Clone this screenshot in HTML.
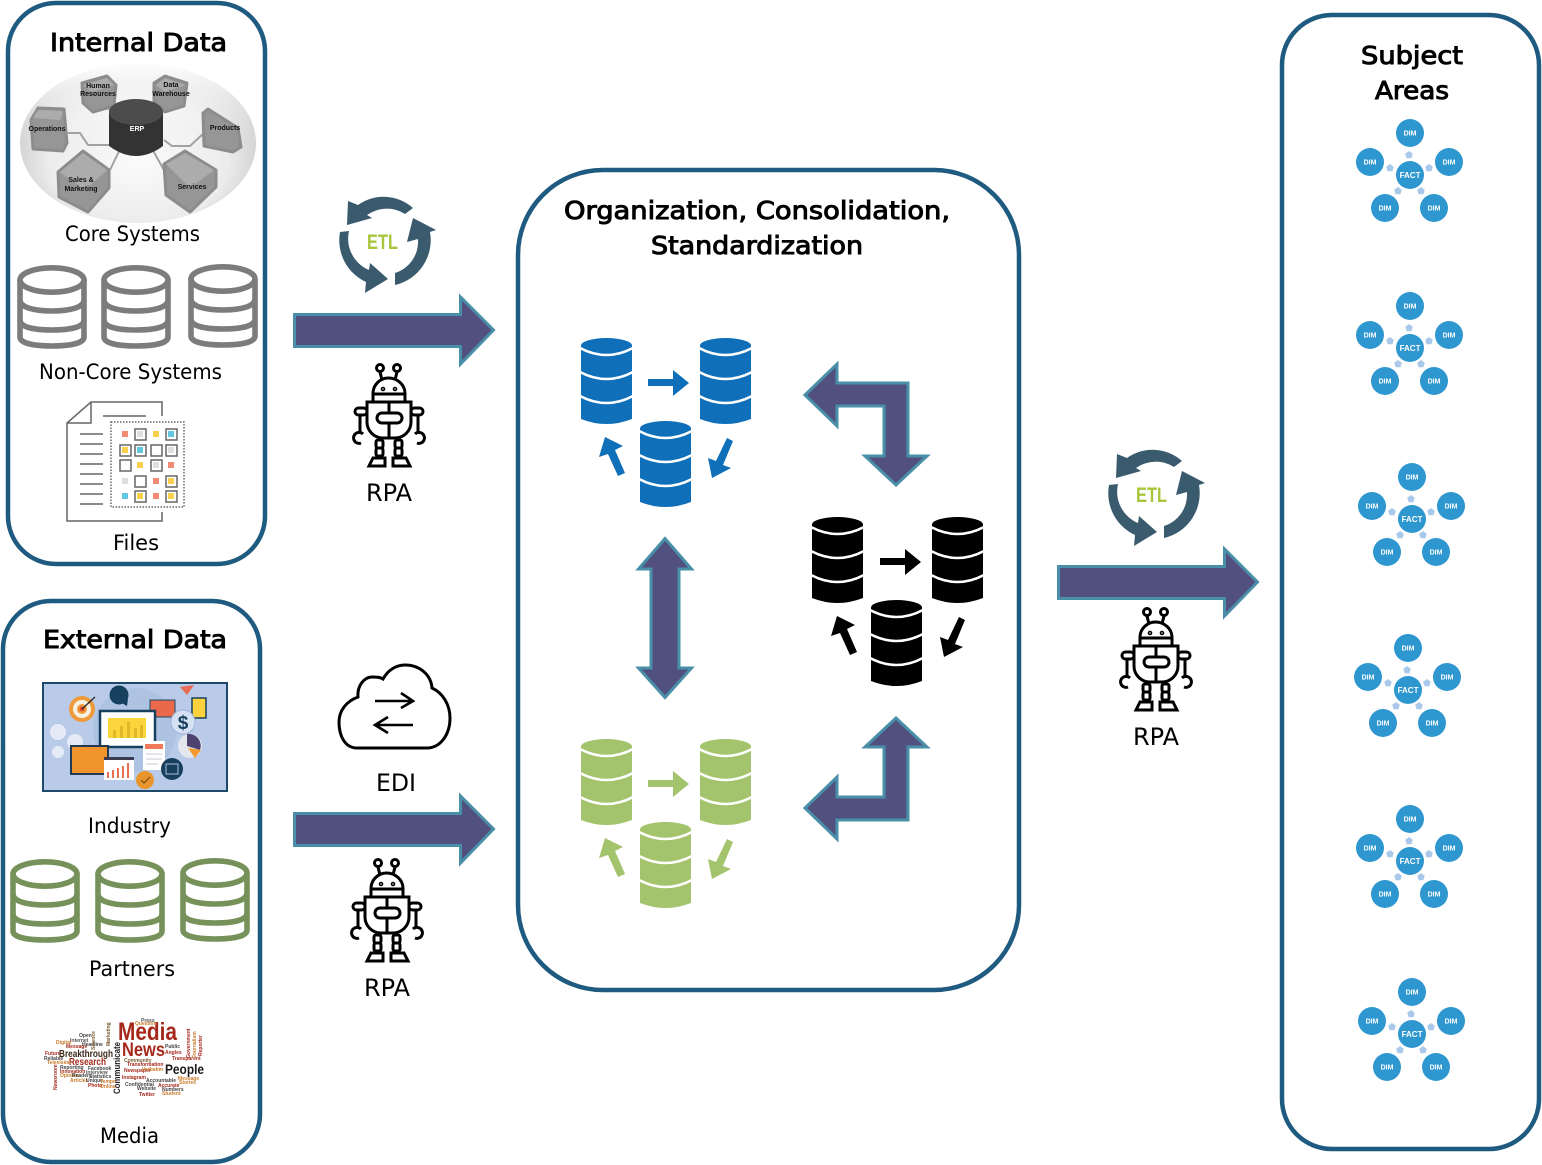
<!DOCTYPE html>
<html><head><meta charset="utf-8"><title>Data architecture</title>
<style>
html,body{margin:0;padding:0;background:#fff}
svg{display:block}
text{font-family:"Liberation Sans",sans-serif}
.h{font-family:"DejaVu Sans",sans-serif;font-size:25px;fill:#000;stroke:#000;stroke-width:1px}
.l{font-family:"DejaVu Sans",sans-serif;font-size:21px;fill:#000}
.r{font-family:"DejaVu Sans",sans-serif;font-size:24px;fill:#000}
.d{font-size:7px;font-weight:bold;fill:#fff;text-anchor:middle}
.f{font-size:8px;font-weight:bold;fill:#fff;text-anchor:middle}
.c{font-size:7px;font-weight:bold;fill:#111;text-anchor:middle}
.w{font-size:5px;font-weight:bold}
</style></head><body>
<svg xmlns="http://www.w3.org/2000/svg" width="1542" height="1165" viewBox="0 0 1542 1165">
<defs>
<radialGradient id="g" cx="50%" cy="62%" r="58%"><stop offset="0" stop-color="#fbfbfb"/><stop offset=".65" stop-color="#ececec"/><stop offset="1" stop-color="#c6c6c6"/></radialGradient>
<linearGradient id="topfade" x1="0" y1="0" x2="0" y2="1"><stop offset="0" stop-color="#fff"/><stop offset=".4" stop-color="#fff" stop-opacity=".2"/><stop offset=".55" stop-color="#fff" stop-opacity="0"/></linearGradient>
<symbol id="db" viewBox="0 0 51 86" overflow="visible">
<path d="M0 8V81Q25.500 91 51 81V8Z" fill="currentColor"/>
<ellipse cx="25.500" cy="7.500" rx="25.500" ry="7.500" fill="currentColor"/>
<g fill="none" stroke="#fff" stroke-width="2.600"><path d="M-1 10Q25.500 24 52 10"/><path d="M-1 34Q25.500 48 52 34"/><path d="M-1 58Q25.500 72 52 58"/></g>
</symbol>
<symbol id="odb" viewBox="0 0 70 84" overflow="visible">
<g fill="none" stroke="currentColor" stroke-width="5.600"><ellipse cx="35" cy="15" rx="32" ry="12.200"/><path d="M3 15V72C3 78 16 81 35 81C54 81 67 78 67 72V15"/><path d="M3 35C3 42 16 46 35 46C54 46 67 42 67 35"/><path d="M3 55C3 62 16 65 35 65C54 65 67 62 67 55"/></g>
</symbol>
<g id="tri">
<polygon points="648,379 673,379 673,370 689,383 673,396 673,386 648,386"/>
<polygon points="605,437 623,446 615,450 625,473 618,476 608,454 599,457"/>
<polygon points="712,478 708,458 716,461 727,438 733,441 723,465 731,468"/>
</g>
<g id="etl" fill="#3a5a6e">
<path d="M413 208A44 44 0 0 0 358 205L348 201L347 225L372 218L367 215A34 34 0 0 1 405 214Z"/>
<path d="M340 232A46 46 0 0 0 366 282L365 293L388 279L370 263L369 270A34 34 0 0 1 349 231Z"/>
<path d="M430 232A46 46 0 0 1 395 285L395 273A33 33 0 0 0 418 239L407 242L413 218L436 230Z"/>
</g>
<g id="robot" fill="none" stroke="#000" stroke-width="3">
<circle cx="380" cy="368" r="3.500"/><circle cx="397" cy="368" r="3.500"/><path d="M380 372L382 380M397 372L395 380"/>
<path d="M373 402V393A15.500 15.500 0 0 1 388.500 378A16.500 15.500 0 0 1 405 393V402"/><path d="M373 394H405"/>
<path d="M367 402H411V422A16 16 0 0 1 395 438H383A16 16 0 0 1 367 422Z"/>
<rect x="377" y="413" width="25" height="10" rx="5"/><path d="M389 402V413M389 423V438"/>
<rect x="355" y="408" width="12" height="7" rx="3.500"/><rect x="411" y="408" width="12" height="7" rx="3.500"/>
<path d="M360 415V433M418 415V433"/>
<path d="M363 434A5.500 5.500 0 1 0 361 443M415 434A5.500 5.500 0 1 1 417 443"/>
<rect x="376" y="440" width="7" height="8" rx="2"/><rect x="376" y="448" width="7" height="8" rx="2"/><rect x="395" y="440" width="7" height="8" rx="2"/><rect x="395" y="448" width="7" height="8" rx="2"/>
<path d="M369 466L373 458H385V466ZM410 466L406 458H393V466Z"/>
<circle cx="383" cy="389" r=".8"/><circle cx="395" cy="389" r=".8"/>
</g>
<polygon id="p" points="0,-4 3.800,-1.200 2.400,3.200 -2.400,3.200 -3.800,-1.200" fill="#a9c8ea"/>
<g id="star">
<g fill="#2f97cf"><circle cx="0" cy="0" r="14"/><circle cx="0" cy="-42" r="14"/><circle cx="-40" cy="-13" r="14"/><circle cx="39" cy="-13" r="14"/><circle cx="-25" cy="33" r="14"/><circle cx="24" cy="33" r="14"/></g>
<use href="#p" x="-1" y="-20"/><use href="#p" x="-20" y="-7"/><use href="#p" x="19" y="-7"/><use href="#p" x="-12" y="16"/><use href="#p" x="11" y="16"/>
</g>
<polygon id="ba" points="294.500,314.500 460.500,314.500 460.500,297 493.500,330 460.500,364 460.500,346.500 294.500,346.500"/>
</defs>

<!-- containers -->
<g fill="#fff" stroke="#1f5a80" stroke-width="4.500">
<rect x="8" y="3" width="257" height="561" rx="48"/>
<rect x="3" y="601" width="257" height="561" rx="48"/>
<rect x="518" y="170" width="501" height="820" rx="85"/>
<rect x="1282" y="15" width="257" height="1134" rx="50"/>
</g>

<!-- titles -->
<text class="h" x="50" y="51" textLength="177" lengthAdjust="spacingAndGlyphs">Internal Data</text>
<text class="h" x="43" y="648" textLength="184" lengthAdjust="spacingAndGlyphs">External Data</text>
<text class="h" x="564" y="219" textLength="386" lengthAdjust="spacingAndGlyphs">Organization, Consolidation,</text>
<text class="h" x="651" y="254" textLength="212" lengthAdjust="spacingAndGlyphs">Standardization</text>
<text class="h" x="1361" y="64" textLength="102" lengthAdjust="spacingAndGlyphs">Subject</text>
<text class="h" x="1375" y="99" textLength="74" lengthAdjust="spacingAndGlyphs">Areas</text>

<!-- labels -->
<text class="l" x="65" y="241" textLength="135" lengthAdjust="spacingAndGlyphs">Core Systems</text>
<text class="l" x="39" y="379" textLength="183" lengthAdjust="spacingAndGlyphs">Non-Core Systems</text>
<text class="l" x="113" y="550" textLength="46" lengthAdjust="spacingAndGlyphs">Files</text>
<text class="l" x="88" y="833" textLength="83" lengthAdjust="spacingAndGlyphs">Industry</text>
<text class="l" x="89" y="976" textLength="86" lengthAdjust="spacingAndGlyphs">Partners</text>
<text class="l" x="100" y="1143" textLength="59" lengthAdjust="spacingAndGlyphs">Media</text>
<text class="r" x="366" y="501" textLength="46" lengthAdjust="spacingAndGlyphs">RPA</text>
<text class="r" x="364" y="996" textLength="46" lengthAdjust="spacingAndGlyphs">RPA</text>
<text class="r" x="1133" y="745" textLength="46" lengthAdjust="spacingAndGlyphs">RPA</text>
<text class="r" x="376" y="791" textLength="40" lengthAdjust="spacingAndGlyphs">EDI</text>

<!-- core systems illustration -->
<ellipse cx="138" cy="143" rx="118" ry="80" fill="url(#g)"/>
<ellipse cx="138" cy="143" rx="119" ry="81" fill="url(#topfade)"/>
<g fill="none" stroke="#a2a2a2" stroke-width="2"><path d="M68 133H80L88 145H110"/><path d="M164 140L172 146H190L204 133"/><path d="M106 106L116 116M165 106L156 116"/><path d="M122 145L110 170M150 145L165 172"/></g>
<g stroke-linejoin="round" stroke-width="3" fill="#969696" stroke="#8c8c8c">
<polygon points="82,83 107,76 116,85 114,106 93,112 83,103"/>
<polygon points="154,83 165,76 187,83 184,106 165,112 154,102"/>
<polygon points="31,120 38,108 64,109 67,143 63,151 33,149"/>
<polygon points="203,113 208,109 238,128 241,147 233,152 204,146"/>
<polygon points="58,172 83,151 109,170 109,188 88,212 59,197"/>
<polygon points="164,164 185,151 216,170 216,187 190,212 166,195"/>
</g>
<g fill="#acacac">
<polygon points="83,85 107,78 114,85 92,92"/>
<polygon points="156,85 165,78 185,85 165,92"/>
<polygon points="33,118 38,110 63,111 60,120"/>
<polygon points="60,172 83,153 107,170 85,190"/>
<polygon points="166,164 185,153 214,170 190,188"/>
</g>
<path d="M109 112V146Q136 166 163 146V112Z" fill="#333"/>
<ellipse cx="136" cy="112" rx="27" ry="13" fill="#4c4c4c"/>
<text x="137" y="131" style="font-size:7px;font-weight:bold" fill="#fff" text-anchor="middle">ERP</text>
<text class="c" x="98" y="88">Human</text><text class="c" x="98" y="96">Resources</text>
<text class="c" x="171" y="87">Data</text><text class="c" x="171" y="96">Warehouse</text>
<text class="c" x="47" y="131">Operations</text>
<text class="c" x="225" y="130">Products</text>
<text class="c" x="81" y="182">Sales &amp;</text><text class="c" x="81" y="191">Marketing</text>
<text class="c" x="192" y="189">Services</text>

<!-- outlined DBs -->
<g color="#7c7c7c">
<use href="#odb" x="17" y="265" width="70" height="84"/>
<use href="#odb" x="101" y="265" width="70" height="84"/>
<use href="#odb" x="188" y="264" width="70" height="84"/>
</g>
<g color="#76925a">
<use href="#odb" x="10" y="859" width="70" height="84"/>
<use href="#odb" x="95" y="859" width="70" height="84"/>
<use href="#odb" x="180" y="858" width="70" height="84"/>
</g>

<!-- files icon -->
<g fill="none" stroke="#666" stroke-width="1.500">
<path d="M162 416V402H91L67 423V521H162V512"/><path d="M91 402V423H67"/><path d="M103 416H146"/>
<path d="M80 434H103M80 444H103M80 454H103M80 464H103M80 474H103M80 484H103M80 494H103M80 504H103"/>
<rect x="111" y="422" width="73" height="85" stroke-dasharray="1.500 1.500"/>
<rect x="135" y="429" width="11" height="11"/><rect x="166" y="429" width="11" height="11"/>
<rect x="120" y="445" width="11" height="11"/><rect x="135" y="445" width="11" height="11"/><rect x="151" y="445" width="11" height="11"/><rect x="166" y="445" width="11" height="11"/>
<rect x="120" y="460" width="11" height="11"/><rect x="151" y="460" width="11" height="11"/>
<rect x="135" y="476" width="11" height="11"/><rect x="166" y="476" width="11" height="11"/>
<rect x="135" y="491" width="11" height="11"/><rect x="166" y="491" width="11" height="11"/>
</g>
<g fill="#f28b73"><rect x="122" y="431" width="6" height="6"/><rect x="168" y="462" width="6" height="6"/><rect x="153" y="478" width="6" height="6"/><rect x="153" y="493" width="6" height="6"/></g>
<g fill="#f8d04e"><rect x="153" y="431" width="6" height="6"/><rect x="122" y="447" width="6" height="6"/><rect x="137" y="462" width="6" height="6"/><rect x="168" y="478" width="6" height="6"/><rect x="137" y="493" width="6" height="6"/><rect x="168" y="493" width="6" height="6"/></g>
<g fill="#63c6dc"><rect x="168" y="431" width="6" height="6"/><rect x="137" y="447" width="6" height="6"/><rect x="122" y="493" width="6" height="6"/></g>
<g fill="#dedede"><rect x="137" y="431" width="6" height="6"/><rect x="168" y="447" width="6" height="6"/><rect x="153" y="462" width="6" height="6"/><rect x="122" y="478" width="6" height="6"/></g>

<!-- industry illustration -->
<rect x="43" y="683" width="184" height="108" fill="#b9cbe8" stroke="#1d4a6a" stroke-width="2"/>
<circle cx="135" cy="730" r="42" fill="#aec2e2"/>
<g fill="#e4ebf6"><circle cx="58" cy="732" r="8"/><circle cx="75" cy="742" r="8"/><circle cx="58" cy="752" r="6"/></g>
<circle cx="82" cy="709" r="13" fill="#ee9a3a"/><circle cx="82" cy="709" r="9" fill="#f7f1e4"/><circle cx="82" cy="709" r="5" fill="#ee9a3a"/><circle cx="82" cy="709" r="2.500" fill="#e54a30"/>
<path d="M82 709L95 697" stroke="#222" stroke-width="1.200"/>
<circle cx="119" cy="695" r="9.500" fill="#17405e"/><polygon points="120,702 128,699 127,706" fill="#17405e"/>
<rect x="150" y="700" width="25" height="17" fill="#e9694a" stroke="#1d4a6a"/>
<polygon points="180,687 194,685 187,695" fill="#ea6b55"/>
<rect x="192" y="698" width="14" height="20" fill="#fbd23b" stroke="#17405e" stroke-width="1.500"/>
<circle cx="183" cy="722" r="12" fill="#d6e2f4" stroke="#9db5dc"/>
<text x="183" y="729" style="font-size:19px;font-weight:bold" fill="#17405e" text-anchor="middle">$</text>
<rect x="100" y="711" width="55" height="36" fill="#fff" stroke="#17405e" stroke-width="2.500"/>
<rect x="108" y="718" width="38" height="20" fill="#fbd53c"/>
<g fill="#e0b92b"><rect x="113" y="730" width="3" height="8"/><rect x="120" y="726" width="3" height="12"/><rect x="127" y="722" width="3" height="16"/><rect x="134" y="728" width="3" height="10"/><rect x="140" y="725" width="3" height="13"/></g>
<circle cx="190" cy="746" r="12" fill="#e5e7ee"/><path d="M187 734A12 12 0 0 1 200 750L187 746Z" fill="#4e4270"/><polygon points="188,748 201,750 195,758" fill="#f29a30"/>
<rect x="71" y="746" width="37" height="28" fill="#f0942b" stroke="#213a55" stroke-width="2"/>
<rect x="143" y="741" width="22" height="29" fill="#fff"/><rect x="145" y="744" width="18" height="5" fill="#f0795a"/><path d="M146 754H162M146 759H162M146 764H158" stroke="#c8c8d4"/>
<rect x="104" y="758" width="30" height="22" fill="#fff"/><rect x="104" y="757" width="30" height="3" fill="#3a3a50"/>
<g fill="#e8704e"><rect x="107" y="772" width="2" height="6"/><rect x="112" y="770" width="2" height="8"/><rect x="117" y="768" width="2" height="10"/><rect x="122" y="766" width="2" height="12"/><rect x="127" y="763" width="2" height="15"/></g>
<circle cx="145" cy="780" r="9" fill="#e8952c"/><path d="M141 780L144 783L150 777" fill="none" stroke="#7a4c17" stroke-width="1.200"/>
<circle cx="172" cy="769" r="11" fill="#17405e"/><rect x="166" y="764" width="12" height="10" fill="none" stroke="#a9c0de"/>

<!-- word cloud -->
<g>
<text x="118" y="1040" style="font-size:25px;font-weight:bold" fill="#a5281b" textLength="59" lengthAdjust="spacingAndGlyphs">Media</text>
<text x="122" y="1056" style="font-size:19px;font-weight:bold" fill="#a5281b" textLength="43" lengthAdjust="spacingAndGlyphs">News</text>
<text x="165" y="1074" style="font-size:14px;font-weight:bold" fill="#1a1a1a" textLength="39" lengthAdjust="spacingAndGlyphs">People</text>
<text x="59" y="1057" style="font-size:10px;font-weight:bold" fill="#3a2a1a" textLength="54" lengthAdjust="spacingAndGlyphs">Breakthrough</text>
<text x="69" y="1065" style="font-size:10px;font-weight:bold" fill="#a5281b" textLength="37" lengthAdjust="spacingAndGlyphs">Research</text>
<text transform="translate(120 1094) rotate(-90)" style="font-size:9px;font-weight:bold" fill="#222" textLength="52" lengthAdjust="spacingAndGlyphs">Communicate</text>
<text class="w" x="141" y="1022" fill="#555">Press</text>
<text class="w" x="135" y="1025" fill="#c97a2b">Question</text>
<text class="w" x="79" y="1037" fill="#444">Open</text>
<text class="w" x="70" y="1042" fill="#555">Internet</text>
<text class="w" x="56" y="1044" fill="#c97a2b">Digital</text>
<text class="w" x="66" y="1048" fill="#a5281b">Message</text>
<text class="w" x="82" y="1046" fill="#444">Headline</text>
<text class="w" x="45" y="1055" fill="#a5281b">Future</text>
<text class="w" x="44" y="1060" fill="#444">Reliable</text>
<text class="w" x="47" y="1064" fill="#c97a2b">Television</text>
<text class="w" x="60" y="1069" fill="#444">Reporting</text>
<text class="w" x="60" y="1073" fill="#a5281b">Innovation</text>
<text class="w" x="60" y="1077" fill="#c97a2b">Opinion</text>
<text class="w" x="72" y="1077" fill="#444">Readers</text>
<text class="w" x="70" y="1082" fill="#c97a2b">Articles</text>
<text class="w" x="88" y="1070" fill="#444">Facebook</text>
<text class="w" x="86" y="1074" fill="#555">Interview</text>
<text class="w" x="89" y="1078" fill="#444">Statistics</text>
<text class="w" x="86" y="1082" fill="#444">Unique</text>
<text class="w" x="100" y="1083" fill="#c97a2b">Tempo</text>
<text class="w" x="88" y="1087" fill="#a5281b">Photo</text>
<text class="w" x="100" y="1088" fill="#c97a2b">Online</text>
<text class="w" x="124" y="1062" fill="#7a5a2a">Community</text>
<text class="w" x="127" y="1066" fill="#a5281b">Transformation</text>
<text class="w" x="124" y="1072" fill="#a5281b">Newspaper</text>
<text class="w" x="142" y="1071" fill="#c97a2b">Verbatim</text>
<text class="w" x="122" y="1079" fill="#a5281b">Instagram</text>
<text class="w" x="125" y="1086" fill="#444">Confidential</text>
<text class="w" x="137" y="1090" fill="#444">Website</text>
<text class="w" x="139" y="1096" fill="#a5281b">Twitter</text>
<text class="w" x="146" y="1082" fill="#444">Accountable</text>
<text class="w" x="158" y="1087" fill="#a5281b">Accurate</text>
<text class="w" x="162" y="1091" fill="#444">Numbers</text>
<text class="w" x="162" y="1095" fill="#c97a2b">Student</text>
<text class="w" x="165" y="1048" fill="#444">Public</text>
<text class="w" x="165" y="1054" fill="#a5281b">Angles</text>
<text class="w" x="172" y="1060" fill="#a5281b">Transparent</text>
<text class="w" x="178" y="1080" fill="#c97a2b">Message</text>
<text class="w" x="179" y="1084" fill="#c97a2b">Stories</text>
<text class="w" transform="translate(190 1058) rotate(-90)" fill="#a5281b">Government</text>
<text class="w" transform="translate(196 1058) rotate(-90)" fill="#c97a2b">Journalism</text>
<text class="w" transform="translate(202 1056) rotate(-90)" fill="#a5281b">Reporter</text>
<text class="w" transform="translate(95 1050) rotate(-90)" fill="#7a5a2a">Science</text>
<text class="w" transform="translate(110 1046) rotate(-90)" fill="#7a5a2a">Marketing</text>
<text class="w" transform="translate(57 1090) rotate(-90)" fill="#a5281b">Newsroom</text>
</g>

<!-- block arrows -->
<g fill="#51507f" stroke="#4a8fa8" stroke-width="3">
<use href="#ba"/>
<use href="#ba" y="499"/>
<use href="#ba" x="764" y="252"/>
<polygon points="805,395 837,364 837,383 908,383 908,456 927,456 896,485 865,456 884,456 884,406 837,406 837,426"/>
<polygon points="805,808 837,839 837,820 908,820 908,747 927,747 896,718 865,747 884,747 884,797 837,797 837,777"/>
<polygon points="665,538.500 691.500,569 679,569 679,668 691.500,668 665,697.500 638.500,668 651,668 651,569 638.500,569"/>
</g>

<!-- ETL -->
<use href="#etl"/>
<text x="367" y="249" style="font-size:21px;font-weight:bold" fill="#a9c53c" textLength="31" lengthAdjust="spacingAndGlyphs">ETL</text>
<use href="#etl" x="769" y="253"/>
<text x="1136" y="502" style="font-size:21px;font-weight:bold" fill="#a9c53c" textLength="31" lengthAdjust="spacingAndGlyphs">ETL</text>

<!-- robots -->
<use href="#robot"/>
<use href="#robot" x="-2" y="495"/>
<use href="#robot" x="767" y="244"/>

<!-- EDI cloud -->
<path d="M357 748C345 748 339 736 339 722C339 710 347 701 358 697C357 686 364 677 372 677C376 677 380 677 383 679C388 670 396 665 405 665C420 665 431 675 432 688C443 693 450 705 450 718C450 735 440 748 427 748Z" fill="#fff" stroke="#000" stroke-width="3"/>
<path d="M375 701H413M401 693L413 701L401 708M413 725H375M388 717L375 725L388 733" fill="none" stroke="#000" stroke-width="2.600"/>

<!-- DB clusters -->
<g color="#0f6fb9" fill="#0f6fb9">
<use href="#db" x="581" y="338" width="51" height="86"/><use href="#db" x="700" y="338" width="51" height="86"/><use href="#db" x="640" y="421" width="51" height="86"/>
<use href="#tri"/>
</g>
<g color="#000" fill="#000">
<use href="#db" x="812" y="517" width="51" height="86"/><use href="#db" x="932" y="517" width="51" height="86"/><use href="#db" x="871" y="600" width="51" height="86"/>
<use href="#tri" x="232" y="179"/>
</g>
<g color="#a3c46d" fill="#a3c46d">
<use href="#db" x="581" y="739" width="51" height="86"/><use href="#db" x="700" y="739" width="51" height="86"/><use href="#db" x="640" y="822" width="51" height="86"/>
<use href="#tri" y="401"/>
</g>

<!-- star schemas -->
<g transform="translate(1410 175)"><use href="#star"/><text class="f" y="3">FACT</text><text class="d" y="-39.500">DIM</text><text class="d" x="-40" y="-10.500">DIM</text><text class="d" x="39" y="-10.500">DIM</text><text class="d" x="-25" y="35.500">DIM</text><text class="d" x="24" y="35.500">DIM</text></g>
<g transform="translate(1410 348)"><use href="#star"/><text class="f" y="3">FACT</text><text class="d" y="-39.500">DIM</text><text class="d" x="-40" y="-10.500">DIM</text><text class="d" x="39" y="-10.500">DIM</text><text class="d" x="-25" y="35.500">DIM</text><text class="d" x="24" y="35.500">DIM</text></g>
<g transform="translate(1412 519)"><use href="#star"/><text class="f" y="3">FACT</text><text class="d" y="-39.500">DIM</text><text class="d" x="-40" y="-10.500">DIM</text><text class="d" x="39" y="-10.500">DIM</text><text class="d" x="-25" y="35.500">DIM</text><text class="d" x="24" y="35.500">DIM</text></g>
<g transform="translate(1408 690)"><use href="#star"/><text class="f" y="3">FACT</text><text class="d" y="-39.500">DIM</text><text class="d" x="-40" y="-10.500">DIM</text><text class="d" x="39" y="-10.500">DIM</text><text class="d" x="-25" y="35.500">DIM</text><text class="d" x="24" y="35.500">DIM</text></g>
<g transform="translate(1410 861)"><use href="#star"/><text class="f" y="3">FACT</text><text class="d" y="-39.500">DIM</text><text class="d" x="-40" y="-10.500">DIM</text><text class="d" x="39" y="-10.500">DIM</text><text class="d" x="-25" y="35.500">DIM</text><text class="d" x="24" y="35.500">DIM</text></g>
<g transform="translate(1412 1034)"><use href="#star"/><text class="f" y="3">FACT</text><text class="d" y="-39.500">DIM</text><text class="d" x="-40" y="-10.500">DIM</text><text class="d" x="39" y="-10.500">DIM</text><text class="d" x="-25" y="35.500">DIM</text><text class="d" x="24" y="35.500">DIM</text></g>
</svg>
</body></html>
